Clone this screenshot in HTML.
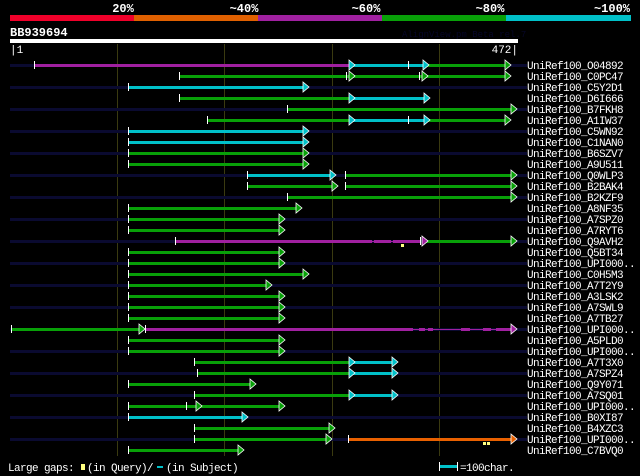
<!DOCTYPE html>
<html><head><meta charset="utf-8"><style>
html,body{margin:0;padding:0;background:#000;width:640px;height:476px;overflow:hidden}
svg{display:block}
text{font-family:"Liberation Mono",monospace}
.lb text{letter-spacing:-0.6px}
</style></head><body>
<svg id="s" width="640" height="476" xmlns="http://www.w3.org/2000/svg">
<rect width="640" height="476" fill="#000"/>
<g font-weight="bold" font-size="12" fill="#fff">
<text x="123" y="12" text-anchor="middle">20%</text>
<text x="244" y="12" text-anchor="middle">~40%</text>
<text x="366" y="12" text-anchor="middle">~60%</text>
<text x="490" y="12" text-anchor="middle">~80%</text>
<text x="612" y="12" text-anchor="middle">~100%</text>
<text x="10" y="36">BB939694</text>
</g>
<rect x="10" y="15" width="124" height="6" fill="#f0002a"/>
<rect x="134" y="15" width="124" height="6" fill="#e06000"/>
<rect x="258" y="15" width="124" height="6" fill="#a020a0"/>
<rect x="382" y="15" width="124" height="6" fill="#08a008"/>
<rect x="506" y="15" width="125" height="6" fill="#00c0c8"/>
<text x="402" y="37" font-size="9" fill="#060628">AlignView.pm Beta rel.7</text>
<rect x="10" y="39" width="508" height="4" fill="#fff"/>
<text x="10" y="53" font-size="11" fill="#fff">|1</text>
<text x="518" y="53" font-size="11" fill="#fff" text-anchor="end">472|</text>
<g id="grid"></g>
<g id="bars"></g>
<g font-size="11" fill="#fff" class="lb">
<text x="527" y="69">UniRef100_O04892</text>
<text x="527" y="80">UniRef100_C0PC47</text>
<text x="527" y="91">UniRef100_C5Y2D1</text>
<text x="527" y="102">UniRef100_D6I666</text>
<text x="527" y="113">UniRef100_B7FKH8</text>
<text x="527" y="124">UniRef100_A1IW37</text>
<text x="527" y="135">UniRef100_C5WN92</text>
<text x="527" y="146">UniRef100_C1NAN0</text>
<text x="527" y="157">UniRef100_B6SZV7</text>
<text x="527" y="168">UniRef100_A9U511</text>
<text x="527" y="179">UniRef100_Q0WLP3</text>
<text x="527" y="190">UniRef100_B2BAK4</text>
<text x="527" y="201">UniRef100_B2KZF9</text>
<text x="527" y="212">UniRef100_A8NF35</text>
<text x="527" y="223">UniRef100_A7SPZ0</text>
<text x="527" y="234">UniRef100_A7RYT6</text>
<text x="527" y="245">UniRef100_Q9AVH2</text>
<text x="527" y="256">UniRef100_Q5BT34</text>
<text x="527" y="267">UniRef100_UPI000..</text>
<text x="527" y="278">UniRef100_C0H5M3</text>
<text x="527" y="289">UniRef100_A7T2Y9</text>
<text x="527" y="300">UniRef100_A3LSK2</text>
<text x="527" y="311">UniRef100_A7SWL9</text>
<text x="527" y="322">UniRef100_A7TB27</text>
<text x="527" y="333">UniRef100_UPI000..</text>
<text x="527" y="344">UniRef100_A5PLD0</text>
<text x="527" y="355">UniRef100_UPI000..</text>
<text x="527" y="366">UniRef100_A7T3X0</text>
<text x="527" y="377">UniRef100_A7SPZ4</text>
<text x="527" y="388">UniRef100_Q9Y071</text>
<text x="527" y="399">UniRef100_A7SQ01</text>
<text x="527" y="410">UniRef100_UPI000..</text>
<text x="527" y="421">UniRef100_B0XI87</text>
<text x="527" y="432">UniRef100_B4XZC3</text>
<text x="527" y="443">UniRef100_UPI000..</text>
<text x="527" y="454">UniRef100_C7BVQ0</text>
<text x="8" y="471">Large gaps:</text>
<text x="87" y="471">(in Query)/</text>
<text x="166" y="471">(in Subject)</text>
<text x="460" y="471">=100char.</text>
</g>
<rect x="81" y="464" width="4" height="6" fill="#ffff80"/>
<rect x="157" y="466" width="6" height="2" fill="#00c0c8"/>
<rect x="440" y="465" width="18" height="3" fill="#00c0c8"/>
<rect x="439" y="462" width="1" height="9" fill="#fff"/>
<rect x="457" y="462" width="1" height="9" fill="#fff"/>
</svg>
<script>
var NS="http://www.w3.org/2000/svg";
function el(p,t,a){var e=document.createElementNS(NS,t);for(var k in a)e.setAttribute(k,a[k]);p.appendChild(e);return e;}
var g=document.getElementById('grid'),b=document.getElementById('bars');
var C={p:'#a020a0',c:'#00c0c8',g:'#08a008',o:'#e86000'};
[117,224,332,439].forEach(function(x){el(g,'rect',{x:x,y:44,width:1,height:412,fill:'#3a3a10'});});
for(var i=0;i<36;i+=2){el(g,'rect',{x:10,y:65+11*i-1,width:517,height:3,fill:'#0a0a30'});}
var R=[
 {s:[[34,349,'p'],[349,423,'c'],[423,505,'g']],t:[34,408],a:[[349,'c'],[423,'c'],[505,'g']]},
 {s:[[179,349,'g'],[349,422,'g'],[422,505,'g']],t:[179,346,419],a:[[349,'g'],[422,'g'],[505,'g']]},
 {s:[[128,303,'c']],t:[128],a:[[303,'c']]},
 {s:[[179,349,'g'],[349,424,'c']],t:[179],a:[[349,'c'],[424,'c']]},
 {s:[[287,511,'g']],t:[287],a:[[511,'g']]},
 {s:[[207,349,'g'],[349,424,'c'],[424,505,'g']],t:[207,408],a:[[349,'c'],[424,'c'],[505,'g']]},
 {s:[[128,303,'c']],t:[128],a:[[303,'c']]},
 {s:[[128,303,'c']],t:[128],a:[[303,'c']]},
 {s:[[128,303,'g']],t:[128],a:[[303,'g']]},
 {s:[[128,303,'g']],t:[128],a:[[303,'g']]},
 {s:[[247,330,'c'],[345,511,'g']],t:[247,345],a:[[330,'c'],[511,'g']]},
 {s:[[247,332,'g'],[345,511,'g']],t:[247,345],a:[[332,'g'],[511,'g']]},
 {s:[[287,511,'g']],t:[287],a:[[511,'g']]},
 {s:[[128,296,'g']],t:[128],a:[[296,'g']]},
 {s:[[128,279,'g']],t:[128],a:[[279,'g']]},
 {s:[[128,279,'g']],t:[128],a:[[279,'g']]},
 {s:[[175,372,'p'],[374,391,'p'],[393,420,'p'],[422,511,'g']],th:[[372,374,'p'],[391,393,'p']],t:[175,420],a:[[422,'p'],[511,'g']],y:[402]},
 {s:[[128,279,'g']],t:[128],a:[[279,'g']]},
 {s:[[128,279,'g']],t:[128],a:[[279,'g']]},
 {s:[[128,303,'g']],t:[128],a:[[303,'g']]},
 {s:[[128,266,'g']],t:[128],a:[[266,'g']]},
 {s:[[128,279,'g']],t:[128],a:[[279,'g']]},
 {s:[[128,279,'g']],t:[128],a:[[279,'g']]},
 {s:[[128,279,'g']],t:[128],a:[[279,'g']]},
 {s:[[11,139,'g'],[145,413,'p'],[419,425,'p'],[428,433,'p'],[461,470,'p'],[483,491,'p'],[496,511,'p']],th:[[413,511,'p']],t:[11,145],a:[[139,'g'],[511,'p']]},
 {s:[[128,279,'g']],t:[128],a:[[279,'g']]},
 {s:[[128,279,'g']],t:[128],a:[[279,'g']]},
 {s:[[194,349,'g'],[349,392,'c']],t:[194],a:[[349,'c'],[392,'c']]},
 {s:[[197,349,'g'],[349,392,'c']],t:[197],a:[[349,'c'],[392,'c']]},
 {s:[[128,250,'g']],t:[128],a:[[250,'g']]},
 {s:[[194,349,'g'],[349,392,'c']],t:[194],a:[[349,'c'],[392,'c']]},
 {s:[[128,279,'g']],t:[128,186],a:[[196,'g'],[279,'g']]},
 {s:[[128,242,'c']],t:[128],a:[[242,'c']]},
 {s:[[194,329,'g']],t:[194],a:[[329,'g']]},
 {s:[[194,326,'g'],[348,511,'o']],t:[194,348],a:[[326,'g'],[511,'o']],y:[484,488]},
 {s:[[128,238,'g']],t:[128],a:[[238,'g']]}
];
R.forEach(function(r,i){
 var y=65+11*i;
 (r.th||[]).forEach(function(s){el(b,'rect',{x:s[0],y:y,width:s[1]-s[0],height:1,fill:C[s[2]]});});
 r.s.forEach(function(s){el(b,'rect',{x:s[0],y:y-1,width:s[1]-s[0],height:3,fill:C[s[2]]});});
 r.t.forEach(function(x){el(b,'rect',{x:x,y:y-4,width:1,height:8,fill:'#fff'});});
 r.a.forEach(function(a){var x=a[0];
  el(b,'polygon',{points:(x)+','+(y-5)+' '+(x+6)+','+(y)+' '+(x)+','+(y+5),fill:C[a[1]],stroke:'#fff','stroke-width':0.8});});
 (r.y||[]).forEach(function(x){el(b,'rect',{x:x-1,y:y+3,width:3,height:3,fill:'#ffff80'});});
});
</script>
</body></html>
